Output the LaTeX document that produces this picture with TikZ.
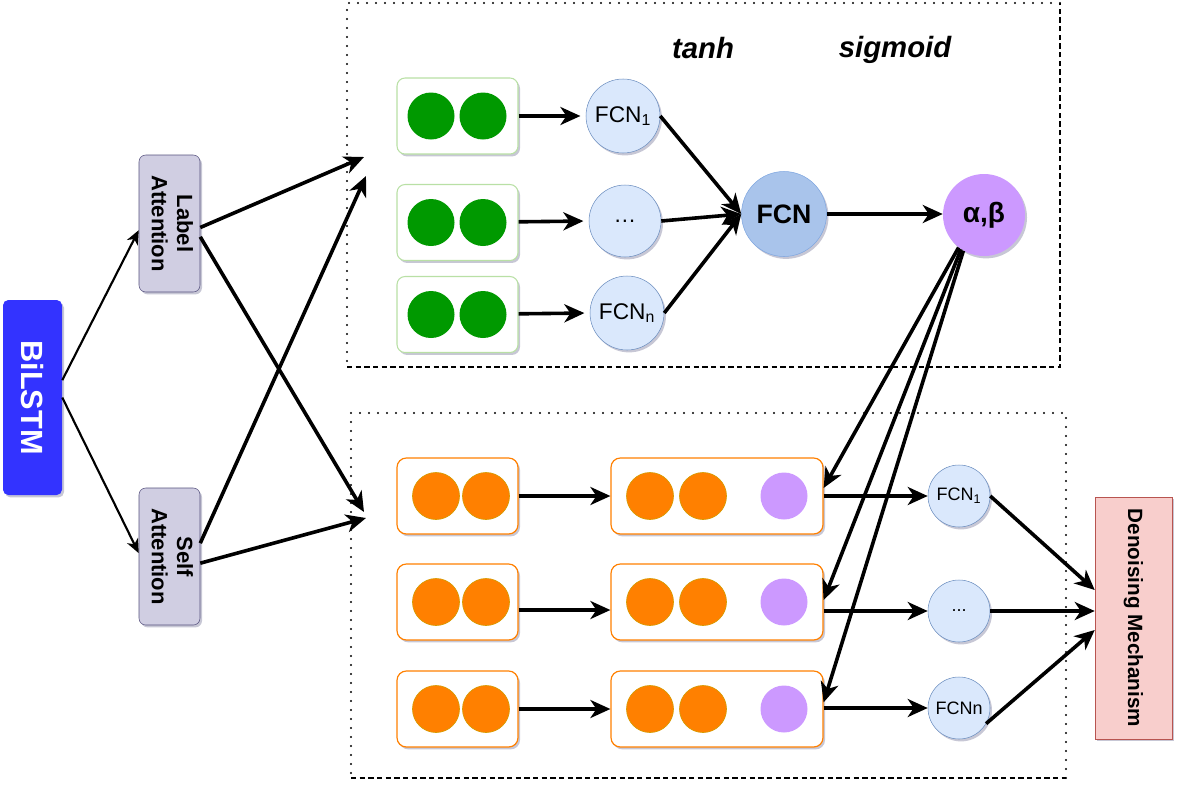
\documentclass[tikz,border=0pt]{standalone}
\usepackage{fontspec}
\usepackage{graphicx}
\setmainfont{Liberation Sans}
\usetikzlibrary{arrows.meta,shadows}

% Colours
\definecolor{blstm}{RGB}{51,51,255}
\definecolor{attfill}{HTML}{D0CEE2}
\definecolor{attline}{HTML}{56517E}
\definecolor{gline}{HTML}{B9E0A5}
\definecolor{gball}{HTML}{009900}
\definecolor{oline}{HTML}{FF8000}
\definecolor{oedge}{HTML}{D79B00}
\definecolor{purp}{HTML}{CC99FF}
\definecolor{fcnfill}{HTML}{DAE8FC}
\definecolor{fcnline}{HTML}{6C8EBF}
\definecolor{bigfill}{HTML}{A9C4EB}
\definecolor{bigline}{HTML}{7EA6E0}
\definecolor{dmfill}{HTML}{F8CECC}
\definecolor{dmline}{HTML}{B85450}

\tikzset{
  shad/.style={drop shadow={shadow xshift=1.5pt,shadow yshift=-1.8pt,opacity=.22,fill=blue!25!black}},
  arr/.style={-{Stealth[length=15pt,width=13.5pt,inset=4.5pt]},line width=2.7pt},
  thinarr/.style={-{Stealth[length=10.5pt,width=9pt,inset=3pt]},line width=1.6pt},
  dotframe/.style={line width=1.7pt,dash pattern=on 0pt off 6.75pt,line cap=round},
  dashframe/.style={line width=1pt,dash pattern=on 4pt off 2.5pt},
  vbox/.style={shad,rounded corners=5pt,inner sep=0pt,align=center},
  att/.style={vbox,draw=attline,fill=attfill,minimum width=45.75pt,minimum height=102.75pt,
    font=\bfseries\fontsize{16.5}{19}\selectfont},
  gbox/.style={shad,draw=gline,fill=white,line width=0.8pt,rounded corners=6pt,
    minimum width=90.75pt,minimum height=57pt},
  obox/.style={shad,draw=oline,fill=white,line width=0.9pt,rounded corners=7pt,minimum height=57pt},
  ball/.style={circle,inner sep=0pt,minimum size=35.25pt},
  fcn/.style={shad,circle,draw=fcnline,fill=fcnfill,inner sep=0pt},
}

\begin{document}
\begin{tikzpicture}[x=0.75pt,y=-0.75pt]
  \useasboundingbox (0,0) rectangle (1180,786);

  % Frames
  \draw[dotframe] (1060,3) -- (347,3) -- (347,367);
  \draw[dashframe] (347,367) -- (1060,367) -- (1060,3);
  \draw[dotframe] (1066,778) -- (1066,413) -- (351,413) -- (351,778);
  \draw[dashframe] (351,778) -- (1066,778);

  % Encoder and attention
  \node[vbox,fill=blstm,rounded corners=4pt,minimum width=44.25pt,minimum height=146.25pt,
    text=white,font=\bfseries\fontsize{23}{25}\selectfont] (ba) at (32.5,397.5) {\rotatebox{-90}{BiLSTM}};
  \node[att] (la) at (169.5,223.5) {\rotatebox{-90}{\begin{tabular}{@{}c@{}}Label\\Attention\end{tabular}}};
  \node[att] (sa) at (169.5,556.5) {\rotatebox{-90}{\begin{tabular}{@{}c@{}}Self\\Attention\end{tabular}}};

  \draw[thinarr] ([yshift=13pt]ba.east) -- ([yshift=-5pt]la.west);
  \draw[thinarr] (ba.east) -- ([yshift=2.5pt]sa.west);

  % Free ends into the two blocks
  \coordinate (in1) at (364,157);
  \coordinate (in2) at (366,176);
  \coordinate (in3) at (364,512);
  \coordinate (in4) at (366,518);
  \draw[arr] ([yshift=-3pt]la.east) -- (in1);
  \draw[arr] ([yshift=-10pt]la.east) -- (in3);
  \draw[arr] ([yshift=10pt]sa.east) -- (in2);
  \draw[arr] ([yshift=-5pt]sa.east) -- (in4);

  % Upper block
  \foreach \i/\yy in {1/116,2/222.5,3/314.5}{
    \node[gbox] (g\i) at (457.5,\yy) {};
    \node[ball,fill=gball] (g\i a) at (431,\yy) {};
    \node[ball,fill=gball] (g\i b) at (483,\yy) {};
  }
  \node[fcn,minimum size=55.5pt,font=\fontsize{17}{18}\selectfont] (f1) at (623,116) {FCN\textsubscript{1}};
  \node[fcn,minimum size=54pt,font=\fontsize{17}{18}\selectfont] (f2) at (625,221) {\dots};
  \node[fcn,minimum size=55.5pt,font=\fontsize{17}{18}\selectfont] (f3) at (627,313) {FCN\textsubscript{n}};
  \draw[arr,shorten >=4pt] (g1) -- (f1.west);
  \draw[arr,shorten >=4pt] (g2) -- (f2.west);
  \draw[arr,shorten >=4pt] (g3) -- (f3.west);

  \node[fcn,draw=bigline,fill=bigfill,minimum size=63.75pt,font=\bfseries\fontsize{20}{22}\selectfont] (fc) at (784,214) {FCN};
  \node[shad,circle,fill=purp,inner sep=0pt,minimum size=61.5pt,font=\bfseries\fontsize{21}{23}\selectfont] (ab) at (984,215) {α,β};
  \draw[arr] (f1.east) -- (fc.west);
  \draw[arr] (f2.east) -- (fc.west);
  \draw[arr] (f3.east) -- (fc.west);
  \draw[arr] (fc.east) -- (ab.west |- fc.east);

  \node[font=\bfseries\itshape\fontsize{22}{24}\selectfont] (tanh) at (703,48) {tanh};
  \node[font=\bfseries\itshape\fontsize{22}{24}\selectfont] (sigm) at (895,50) {sigmoid};

  % Lower block
  \foreach \i/\yy in {1/496,2/602,3/709}{
    \node[obox,minimum width=90.75pt] (o\i) at (457.5,\yy) {};
    \node[ball,fill=oline,draw=oedge,line width=0.5pt] (o\i a) at (436,\yy) {};
    \node[ball,fill=oline,draw=oedge,line width=0.5pt] (o\i b) at (486,\yy) {};
    \node[obox,minimum width=159pt] (r\i) at (717,\yy) {};
    \node[ball,fill=oline,draw=oedge,line width=0.5pt] (r\i a) at (650,\yy) {};
    \node[ball,fill=oline,draw=oedge,line width=0.5pt] (r\i b) at (703,\yy) {};
    \node[ball,fill=purp] (r\i c) at (784,\yy) {};
  }
  \draw[arr] (o1) -- (r1);
  \draw[arr] ([yshift=-6pt]o2.east) -- ([yshift=-6pt]r2.west);
  \draw[arr] (o3) -- (r3);

  \node[fcn,minimum size=46.5pt,font=\fontsize{13.5}{15}\selectfont] (s1) at (959,496) {FCN\textsubscript{1}};
  \node[fcn,minimum size=46.5pt,font=\fontsize{13.5}{15}\selectfont] (s2) at (959,611) {...};
  \node[fcn,minimum size=46.5pt,font=\fontsize{13.5}{15}\selectfont] (s3) at (959,708) {FCNn};
  \draw[arr] (r1.east |- s1) -- (s1);
  \draw[arr] (r2.east |- s2) -- (s2);
  \draw[arr] (r3.east |- s3) -- (s3);

  % Weights back into the lower block
  \draw[arr] (ab.-128) -- ([yshift=6pt]r1.east);
  \draw[arr] (ab.-124) -- ([yshift=1.5pt]r2.east);
  \draw[arr] (ab.-120) -- ([yshift=5pt]r3.east);

  % Output
  \node[vbox,rounded corners=0pt,draw=dmline,fill=dmfill,minimum width=57.75pt,minimum height=181.5pt,
    font=\bfseries\fontsize{15.5}{17}\selectfont] (dm) at (1133.5,618) {\rotatebox{-90}{Denoising Mechanism}};
  \draw[arr] (s1.east) -- ([yshift=21pt]dm.west);
  \draw[arr] (s2) -- (dm.west |- s2);
  \draw[arr] (s3.-30) -- ([yshift=-9pt]dm.west);

\end{tikzpicture}
\end{document}
